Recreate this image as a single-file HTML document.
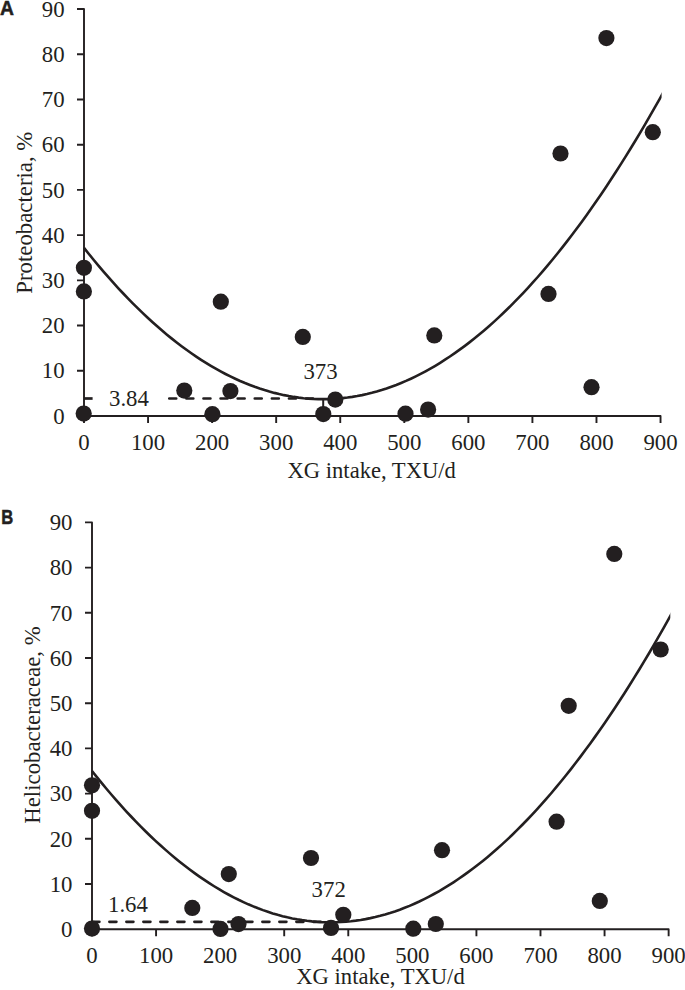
<!DOCTYPE html>
<html><head><meta charset="utf-8"><style>
html,body{margin:0;padding:0;background:#fff;width:685px;height:990px;overflow:hidden}
</style></head><body>
<svg width="685" height="990" viewBox="0 0 685 990" style="position:absolute;left:0;top:0">
<g font-family="Liberation Serif, serif" font-size="22.8" fill="#231f20">
<path d="M77.00 9.02H84.00V416.00H660.54V423.00" fill="none" stroke="#231f20" stroke-width="1.9" stroke-linejoin="round"/>
<path d="M77.00 416.00H84.00M77.00 370.78H84.00M77.00 325.56H84.00M77.00 280.34H84.00M77.00 235.12H84.00M77.00 189.90H84.00M77.00 144.68H84.00M77.00 99.46H84.00M77.00 54.24H84.00M84.00 416.00V423.00M148.06 416.00V423.00M212.12 416.00V423.00M276.18 416.00V423.00M340.24 416.00V423.00M404.30 416.00V423.00M468.36 416.00V423.00M532.42 416.00V423.00M596.48 416.00V423.00" fill="none" stroke="#231f20" stroke-width="1.9"/>
<text transform="translate(64.60 423.70) scale(1 1.05)" text-anchor="end">0</text>
<text transform="translate(64.60 378.48) scale(1 1.05)" text-anchor="end">10</text>
<text transform="translate(64.60 333.26) scale(1 1.05)" text-anchor="end">20</text>
<text transform="translate(64.60 288.04) scale(1 1.05)" text-anchor="end">30</text>
<text transform="translate(64.60 242.82) scale(1 1.05)" text-anchor="end">40</text>
<text transform="translate(64.60 197.60) scale(1 1.05)" text-anchor="end">50</text>
<text transform="translate(64.60 152.38) scale(1 1.05)" text-anchor="end">60</text>
<text transform="translate(64.60 107.16) scale(1 1.05)" text-anchor="end">70</text>
<text transform="translate(64.60 61.94) scale(1 1.05)" text-anchor="end">80</text>
<text transform="translate(64.60 16.72) scale(1 1.05)" text-anchor="end">90</text>
<text transform="translate(84.00 450.20) scale(1 1.05)" text-anchor="middle">0</text>
<text transform="translate(148.06 450.20) scale(1 1.05)" text-anchor="middle">100</text>
<text transform="translate(212.12 450.20) scale(1 1.05)" text-anchor="middle">200</text>
<text transform="translate(276.18 450.20) scale(1 1.05)" text-anchor="middle">300</text>
<text transform="translate(340.24 450.20) scale(1 1.05)" text-anchor="middle">400</text>
<text transform="translate(404.30 450.20) scale(1 1.05)" text-anchor="middle">500</text>
<text transform="translate(468.36 450.20) scale(1 1.05)" text-anchor="middle">600</text>
<text transform="translate(532.42 450.20) scale(1 1.05)" text-anchor="middle">700</text>
<text transform="translate(596.48 450.20) scale(1 1.05)" text-anchor="middle">800</text>
<text transform="translate(660.54 450.20) scale(1 1.05)" text-anchor="middle">900</text>
<text x="371.70" y="477.60" text-anchor="middle" font-size="22.6">XG intake, TXU/d</text>
<text transform="translate(32.20 212.70) rotate(-90)" text-anchor="middle">Proteobacteria, %</text>
<line x1="169.3" y1="398.5" x2="323" y2="398.5" stroke="#231f20" stroke-width="2.7" stroke-linecap="round" stroke-dasharray="6.9 10.2"/><line x1="84" y1="398.5" x2="92.6" y2="398.5" stroke="#231f20" stroke-width="2.7"/><line x1="323.2" y1="398.5" x2="323.2" y2="416" stroke="#231f20" stroke-width="2"/>
<clipPath id="ca"><rect x="79" y="-10.980000000000018" width="582.60" height="446.98"/></clipPath>
<polyline clip-path="url(#ca)" points="84.00,247.86 88.88,253.97 93.76,259.96 98.64,265.82 103.52,271.56 108.39,277.17 113.27,282.65 118.15,288.01 123.03,293.25 127.91,298.35 132.79,303.33 137.67,308.18 142.55,312.91 147.43,317.51 152.31,321.99 157.18,326.34 162.06,330.56 166.94,334.66 171.82,338.63 176.70,342.47 181.58,346.19 186.46,349.79 191.34,353.25 196.22,356.59 201.10,359.81 205.97,362.89 210.85,365.86 215.73,368.69 220.61,371.40 225.49,373.98 230.37,376.44 235.25,378.77 240.13,380.98 245.01,383.06 249.89,385.01 254.76,386.84 259.64,388.54 264.52,390.11 269.40,391.56 274.28,392.88 279.16,394.08 284.04,395.15 288.92,396.09 293.80,396.91 298.68,397.60 303.55,398.17 308.43,398.61 313.31,398.92 318.19,399.11 323.07,399.17 327.95,399.10 332.83,398.91 337.71,398.60 342.59,398.15 347.47,397.58 352.34,396.89 357.22,396.07 362.10,395.12 366.98,394.04 371.86,392.84 376.74,391.52 381.62,390.07 386.50,388.49 391.38,386.78 396.26,384.95 401.13,382.99 406.01,380.91 410.89,378.70 415.77,376.37 420.65,373.91 425.53,371.32 430.41,368.61 435.29,365.77 440.17,362.80 445.05,359.71 449.92,356.49 454.80,353.15 459.68,349.67 464.56,346.08 469.44,342.36 474.32,338.51 479.20,334.53 484.08,330.43 488.96,326.20 493.84,321.85 498.71,317.37 503.59,312.77 508.47,308.03 513.35,303.18 518.23,298.19 523.11,293.08 527.99,287.85 532.87,282.49 537.75,277.00 542.63,271.38 547.50,265.64 552.38,259.78 557.26,253.78 562.14,247.66 567.02,241.42 571.90,235.05 576.78,228.55 581.66,221.93 586.54,215.18 591.42,208.30 596.29,201.30 601.17,194.17 606.05,186.92 610.93,179.54 615.81,172.03 620.69,164.40 625.57,156.64 630.45,148.76 635.33,140.75 640.21,132.61 645.08,124.35 649.96,115.96 654.84,107.44 659.72,98.80 664.60,90.03" fill="none" stroke="#231f20" stroke-width="2.6"/>
<circle cx="83.9" cy="267.8" r="8.1"/>
<circle cx="83.9" cy="291.4" r="8.1"/>
<circle cx="83.7" cy="413.6" r="8.1"/>
<circle cx="184.3" cy="390.6" r="8.1"/>
<circle cx="212.4" cy="414.2" r="8.1"/>
<circle cx="220.8" cy="301.7" r="8.1"/>
<circle cx="230.4" cy="391.1" r="8.1"/>
<circle cx="302.8" cy="336.9" r="8.1"/>
<circle cx="323.3" cy="414.1" r="8.1"/>
<circle cx="335.3" cy="399.6" r="8.1"/>
<circle cx="405.5" cy="413.7" r="8.1"/>
<circle cx="428.1" cy="409.6" r="8.1"/>
<circle cx="434.3" cy="335.4" r="8.1"/>
<circle cx="548.5" cy="293.9" r="8.1"/>
<circle cx="560.5" cy="153.5" r="8.1"/>
<circle cx="591.5" cy="387.2" r="8.1"/>
<circle cx="606.4" cy="38.1" r="8.1"/>
<circle cx="652.8" cy="132.2" r="8.1"/>
<text transform="translate(109 406.4) scale(1 1.05)">3.84</text><text transform="translate(303.4 379.3) scale(1 1.05)">373</text>
<path d="M85.00 522.40H92.00V929.20H668.63V936.20" fill="none" stroke="#231f20" stroke-width="1.9" stroke-linejoin="round"/>
<path d="M85.00 929.20H92.00M85.00 884.00H92.00M85.00 838.80H92.00M85.00 793.60H92.00M85.00 748.40H92.00M85.00 703.20H92.00M85.00 658.00H92.00M85.00 612.80H92.00M85.00 567.60H92.00M92.00 929.20V936.20M156.07 929.20V936.20M220.14 929.20V936.20M284.21 929.20V936.20M348.28 929.20V936.20M412.35 929.20V936.20M476.42 929.20V936.20M540.49 929.20V936.20M604.56 929.20V936.20" fill="none" stroke="#231f20" stroke-width="1.9"/>
<text transform="translate(72.50 936.90) scale(1 1.05)" text-anchor="end">0</text>
<text transform="translate(72.50 891.70) scale(1 1.05)" text-anchor="end">10</text>
<text transform="translate(72.50 846.50) scale(1 1.05)" text-anchor="end">20</text>
<text transform="translate(72.50 801.30) scale(1 1.05)" text-anchor="end">30</text>
<text transform="translate(72.50 756.10) scale(1 1.05)" text-anchor="end">40</text>
<text transform="translate(72.50 710.90) scale(1 1.05)" text-anchor="end">50</text>
<text transform="translate(72.50 665.70) scale(1 1.05)" text-anchor="end">60</text>
<text transform="translate(72.50 620.50) scale(1 1.05)" text-anchor="end">70</text>
<text transform="translate(72.50 575.30) scale(1 1.05)" text-anchor="end">80</text>
<text transform="translate(72.50 530.10) scale(1 1.05)" text-anchor="end">90</text>
<text transform="translate(92.00 963.30) scale(1 1.05)" text-anchor="middle">0</text>
<text transform="translate(156.07 963.30) scale(1 1.05)" text-anchor="middle">100</text>
<text transform="translate(220.14 963.30) scale(1 1.05)" text-anchor="middle">200</text>
<text transform="translate(284.21 963.30) scale(1 1.05)" text-anchor="middle">300</text>
<text transform="translate(348.28 963.30) scale(1 1.05)" text-anchor="middle">400</text>
<text transform="translate(412.35 963.30) scale(1 1.05)" text-anchor="middle">500</text>
<text transform="translate(476.42 963.30) scale(1 1.05)" text-anchor="middle">600</text>
<text transform="translate(540.49 963.30) scale(1 1.05)" text-anchor="middle">700</text>
<text transform="translate(604.56 963.30) scale(1 1.05)" text-anchor="middle">800</text>
<text transform="translate(668.63 963.30) scale(1 1.05)" text-anchor="middle">900</text>
<text x="380.50" y="983.60" text-anchor="middle" font-size="22.6">XG intake, TXU/d</text>
<text transform="translate(40.00 725.00) rotate(-90)" text-anchor="middle">Helicobacteraceae, %</text>
<line x1="92.4" y1="921.8" x2="331" y2="921.8" stroke="#231f20" stroke-width="2.7" stroke-linecap="round" stroke-dasharray="7 10"/>
<clipPath id="cb"><rect x="87" y="502.4000000000001" width="583.30" height="446.79999999999995"/></clipPath>
<polyline clip-path="url(#cb)" points="92.00,771.02 96.88,777.15 101.77,783.15 106.65,789.03 111.54,794.78 116.42,800.40 121.31,805.89 126.19,811.26 131.08,816.51 135.96,821.62 140.85,826.61 145.73,831.47 150.62,836.21 155.50,840.82 160.39,845.30 165.27,849.65 170.16,853.88 175.04,857.99 179.93,861.96 184.81,865.81 189.70,869.53 194.58,873.13 199.47,876.59 204.35,879.94 209.24,883.15 214.12,886.24 219.01,889.20 223.89,892.03 228.78,894.74 233.66,897.32 238.55,899.78 243.43,902.10 248.32,904.31 253.20,906.38 258.09,908.33 262.97,910.15 267.86,911.84 272.74,913.41 277.63,914.85 282.51,916.16 287.39,917.35 292.28,918.41 297.16,919.34 302.05,920.15 306.93,920.83 311.82,921.38 316.70,921.81 321.59,922.11 326.47,922.28 331.36,922.33 336.24,922.25 341.13,922.04 346.01,921.71 350.90,921.25 355.78,920.66 360.67,919.94 365.55,919.10 370.44,918.13 375.32,917.04 380.21,915.82 385.09,914.47 389.98,913.00 394.86,911.40 399.75,909.67 404.63,907.81 409.52,905.83 414.40,903.72 419.29,901.49 424.17,899.13 429.06,896.64 433.94,894.02 438.83,891.28 443.71,888.41 448.60,885.42 453.48,882.29 458.37,879.04 463.25,875.67 468.14,872.17 473.02,868.54 477.91,864.78 482.79,860.90 487.67,856.89 492.56,852.75 497.44,848.49 502.33,844.10 507.21,839.58 512.10,834.94 516.98,830.17 521.87,825.27 526.75,820.25 531.64,815.10 536.52,809.82 541.41,804.42 546.29,798.89 551.18,793.23 556.06,787.45 560.95,781.54 565.83,775.50 570.72,769.34 575.60,763.05 580.49,756.63 585.37,750.08 590.26,743.41 595.14,736.62 600.03,729.69 604.91,722.64 609.80,715.46 614.68,708.16 619.57,700.73 624.45,693.17 629.34,685.48 634.22,677.67 639.11,669.73 643.99,661.67 648.88,653.48 653.76,645.16 658.65,636.71 663.53,628.14 668.42,619.44 673.30,610.62" fill="none" stroke="#231f20" stroke-width="2.6"/>
<circle cx="92.0" cy="785.3" r="8.1"/>
<circle cx="92.0" cy="810.8" r="8.1"/>
<circle cx="92.0" cy="928.6" r="8.1"/>
<circle cx="192.3" cy="907.9" r="8.1"/>
<circle cx="220.5" cy="928.9" r="8.1"/>
<circle cx="228.8" cy="874.1" r="8.1"/>
<circle cx="238.5" cy="924.1" r="8.1"/>
<circle cx="311.0" cy="858.0" r="8.1"/>
<circle cx="331.0" cy="927.9" r="8.1"/>
<circle cx="343.3" cy="914.8" r="8.1"/>
<circle cx="413.3" cy="928.7" r="8.1"/>
<circle cx="435.8" cy="924.0" r="8.1"/>
<circle cx="442.0" cy="850.2" r="8.1"/>
<circle cx="556.6" cy="821.7" r="8.1"/>
<circle cx="568.7" cy="705.8" r="8.1"/>
<circle cx="599.8" cy="900.9" r="8.1"/>
<circle cx="614.3" cy="553.9" r="8.1"/>
<circle cx="660.7" cy="649.5" r="8.1"/>
<text transform="translate(108 912.2) scale(1 1.05)">1.64</text><text transform="translate(311.6 897.3) scale(1 1.05)">372</text>
</g>
<g font-family="Liberation Sans, sans-serif" font-weight="bold" font-size="19.3" fill="#231f20" stroke="#231f20" stroke-width="0.5">
<text x="0" y="14.6">A</text>
<text transform="translate(1.2 523.7) scale(0.86 1.03)">B</text>
</g>
</svg>
</body></html>
